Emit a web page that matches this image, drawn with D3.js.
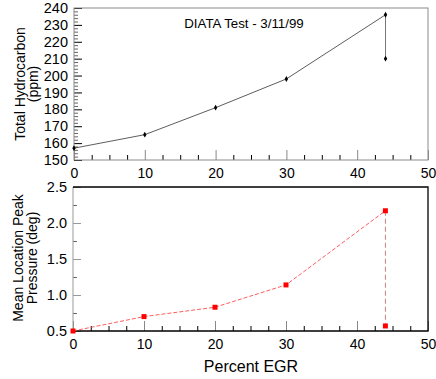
<!DOCTYPE html>
<html><head><meta charset="utf-8">
<script src="https://cdn.jsdelivr.net/npm/d3@7"></script>
<style>
body{margin:0;background:#fff;}
svg{display:block;font-family:Arial,"Liberation Sans",sans-serif;}
</style></head>
<body><svg id="c" width="436" height="379"></svg>
<script>
// Data
const egr = [0, 10, 20, 30, 44, 44];
const hydrocarbon = [157, 165, 181, 198, 236, 210];
const peakLocation = [0.5, 0.70, 0.83, 1.14, 2.17, 0.57];
const xTicks = [0, 10, 20, 30, 40, 50];
const hcTicks = [150, 160, 170, 180, 190, 200, 210, 220, 230, 240];
const plTicks = [0.5, 1.0, 1.5, 2.0, 2.5];
const titleText = "DIATA Test - 3/11/99";

const svg = d3.select("#c");

function panel(opts){
  const {x0, x1, y0, y1, yDomain, yTicks, yMinor, yFmt, xMinor} = opts;
  const x = d3.scaleLinear().domain([0, 50]).range([x0, x1]);
  const y = d3.scaleLinear().domain(yDomain).range([y1, y0]);
  const g = svg.append("g");
  g.append("g").attr("transform", `translate(0,${y1})`)
    .call(d3.axisBottom(x).tickValues(xMinor).tickSize(-5).tickFormat(""))
    .call(a => a.select(".domain").remove())
    .call(a => a.selectAll("line").attr("stroke", "#000"));
  g.append("g").attr("transform", `translate(0,${y1})`)
    .call(d3.axisBottom(x).tickValues(xTicks).tickSize(-10).tickPadding(8).tickFormat(d3.format("d")))
    .call(a => a.select(".domain").remove())
    .call(a => a.selectAll("line").attr("stroke", "#888"))
    .call(a => a.selectAll("text").attr("font-size", 14).attr("fill", "#000").attr("font-family", "Arial, 'Liberation Sans', sans-serif"));
  g.append("g").attr("transform", `translate(${x0},0)`)
    .call(d3.axisLeft(y).tickValues(yMinor).tickSize(-4).tickFormat(""))
    .call(a => a.select(".domain").remove())
    .call(a => a.selectAll("line").attr("stroke", "#666"));
  g.append("g").attr("transform", `translate(${x0},0)`)
    .call(d3.axisLeft(y).tickValues(yTicks).tickSize(-8).tickPadding(6).tickFormat(yFmt))
    .call(a => a.select(".domain").remove())
    .call(a => a.selectAll("line").attr("stroke", opts.yMajorColor))
    .call(a => a.selectAll("text").attr("font-size", 14.5).attr("fill", "#000").attr("font-family", "Arial, 'Liberation Sans', sans-serif"));
  return {g, x, y};
}

const xMinor = d3.range(0, 50.01, 2.5).filter(v => v % 10 !== 0);

// Top panel
const topP = panel({x0: 74, x1: 428, y0: 8, y1: 160, yDomain: [150, 240],
  yTicks: hcTicks, yMinor: d3.range(150, 240.01, 2).filter(v => v % 10 !== 0),
  yFmt: d3.format("d"), xMinor, yMajorColor: "#000"});
topP.g.append("rect").attr("x", 74).attr("y", 8).attr("width", 354).attr("height", 152)
  .attr("fill", "none").attr("stroke", "#8a8a8a").attr("stroke-width", 1);
const tmain = egr.slice(0, 5).map((d, i) => [d, hydrocarbon[i]]);
topP.g.append("path").datum(tmain)
  .attr("d", d3.line().x(d => topP.x(d[0])).y(d => topP.y(d[1])))
  .attr("fill", "none").attr("stroke", "#333").attr("stroke-width", 0.8);
topP.g.append("path").datum([[egr[4], hydrocarbon[4]], [egr[5], hydrocarbon[5]]])
  .attr("d", d3.line().x(d => topP.x(d[0])).y(d => topP.y(d[1])))
  .attr("fill", "none").attr("stroke", "#777").attr("stroke-width", 1);
topP.g.selectAll("path.m").data(egr.map((d, i) => [d, hydrocarbon[i]])).join("path")
  .attr("class", "m")
  .attr("d", d3.symbol(d3.symbolDiamond, 10))
  .attr("transform", d => `translate(${topP.x(d[0])},${topP.y(d[1])})`)
  .attr("fill", "#000");
topP.g.append("text").attr("x", 244).attr("y", 28).attr("text-anchor", "middle")
  .attr("font-size", 13.3).text(titleText);
svg.append("text").attr("transform", "translate(25,84) rotate(-90)").attr("text-anchor", "middle")
  .attr("font-size", 14).text("Total Hydrocarbon");
svg.append("text").attr("transform", "translate(38,84) rotate(-90)").attr("text-anchor", "middle")
  .attr("font-size", 14).text("(ppm)");

// Bottom panel
const botP = panel({x0: 73, x1: 428, y0: 187, y1: 331, yDomain: [0.5, 2.5],
  yTicks: plTicks, yMinor: [0.75, 1.25, 1.75, 2.25],
  yFmt: d3.format(".1f"), xMinor, yMajorColor: "#999"});
botP.g.append("line").attr("x1", 73).attr("x2", 73).attr("y1", 187).attr("y2", 331).attr("stroke", "#999");
botP.g.append("path").attr("d", "M73,187H428V331H73").attr("fill", "none").attr("stroke", "#000").attr("stroke-width", 1.3);
const bmain = egr.slice(0, 5).map((d, i) => [d, peakLocation[i]]);
botP.g.append("path").datum(bmain)
  .attr("d", d3.line().x(d => botP.x(d[0])).y(d => botP.y(d[1])))
  .attr("fill", "none").attr("stroke", "#ff4a4a").attr("stroke-width", 0.9).attr("stroke-dasharray", "4,2");
botP.g.append("path").datum([[egr[4], peakLocation[4]], [egr[5], peakLocation[5]]])
  .attr("d", d3.line().x(d => botP.x(d[0])).y(d => botP.y(d[1])))
  .attr("fill", "none").attr("stroke", "#c08080").attr("stroke-width", 1).attr("stroke-dasharray", "5,3");
botP.g.selectAll("rect.m").data(egr.map((d, i) => [d, peakLocation[i]])).join("rect")
  .attr("class", "m")
  .attr("x", d => botP.x(d[0]) - 2.5).attr("y", d => botP.y(d[1]) - 2.5)
  .attr("width", 5).attr("height", 5).attr("fill", "#ff0000");
svg.append("text").attr("transform", "translate(23,258) rotate(-90)").attr("text-anchor", "middle")
  .attr("font-size", 14).text("Mean Location Peak");
svg.append("text").attr("transform", "translate(37,258) rotate(-90)").attr("text-anchor", "middle")
  .attr("font-size", 14).text("Pressure (deg)");
svg.append("text").attr("x", 251).attr("y", 372).attr("text-anchor", "middle")
  .attr("font-size", 16).text("Percent EGR");
</script></body></html>
